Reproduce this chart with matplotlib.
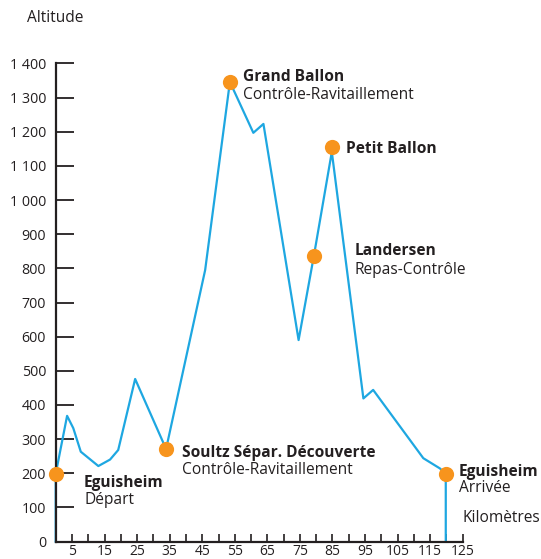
import matplotlib
matplotlib.use("Agg")
import matplotlib.pyplot as plt

# Profile data (km, altitude m)
km =  [0, 0, 3.5, 5.4, 7.7, 13.1, 16.7, 19.2, 24.4, 33.9, 45.9, 53.5, 60.7, 63.8, 74.6, 79.3, 84.8, 94.5, 97.5, 112.9, 118.0, 119.8, 119.8]
alt = [0, 198, 368, 332, 263, 221, 240, 268, 476, 271, 795, 1346, 1197, 1223, 590, 837, 1141, 419, 444, 244, 214, 198, 0]

# Points of interest
poi_km = [0, 33.9, 53.5, 79.3, 84.9, 119.8]
poi_alt = [198, 271, 1346, 837, 1155, 198]
poi_name = ["Eguisheim", "Soultz Sépar. Découverte", "Grand Ballon", "Landersen", "Petit Ballon", "Eguisheim"]
poi_sub = ["Départ", "Contrôle-Ravitaillement", "Contrôle-Ravitaillement", "Repas-Contrôle", "", "Arrivée"]

x_ticks = list(range(5, 126, 5))
x_labels = [str(t) if t % 10 == 5 else "" for t in x_ticks]
y_ticks = list(range(0, 1401, 100))
y_labels = [f"{t:,}".replace(",", " ") for t in y_ticks]

plt.rcParams['font.family'] = ['Open Sans', 'DejaVu Sans']
TXT = "#231f20"
BLUE = "#1ea7e1"
ORANGE = "#f7941d"

W, H = 541, 559
fig = plt.figure(figsize=(W / 100, H / 100), dpi=100)
x0, x1 = 55.7, 462.7
ytop, ybot = 63.5, 541.5
ax = fig.add_axes([x0 / W, (H - ybot) / H, (x1 - x0) / W, (ybot - ytop) / H])
ax.set_xlim(0, 125)
ax.set_ylim(0, 1400)

ax.plot(km, alt, color=BLUE, lw=1.6, clip_on=False, zorder=3, solid_joinstyle='round')
ax.scatter(poi_km, poi_alt, s=120, color=ORANGE, zorder=5, clip_on=False, linewidths=0)

for s in ['top', 'right']:
    ax.spines[s].set_visible(False)
for s in ['left', 'bottom']:
    ax.spines[s].set_linewidth(1.6)
    ax.spines[s].set_color(TXT)
    ax.spines[s].set_zorder(4)

ax.set_xticks(x_ticks)
ax.set_xticklabels(x_labels)
ax.set_yticks(y_ticks)
ax.set_yticklabels(y_labels)
ax.tick_params(axis='y', direction='in', length=13, width=1.3, color=TXT,
               labelsize=10.3, labelcolor=TXT, pad=7)
ax.tick_params(axis='x', direction='in', length=5.5, width=1.2, color=TXT,
               labelsize=10, labelcolor=TXT, pad=1.5)

# Label positions in pixels (left x, centre y of name line, centre y of sub line)
lab_px = [(84, 481, 498), (182, 451, 468), (243, 75, 93), (355, 249, 268), (346, 147, None), (459, 470, 486)]
FS = 11.2
for (lx, ny, sy), name, sub in zip(lab_px, poi_name, poi_sub):
    fig.text(lx / W, 1 - ny / H, name, fontsize=FS, fontweight='bold', color=TXT,
             ha='left', va='center_baseline')
    if sub:
        fig.text(lx / W, 1 - sy / H, sub, fontsize=FS, color=TXT,
                 ha='left', va='center_baseline')

fig.text(27 / W, 1 - 18 / H, "Altitude", fontsize=11.2, color=TXT, ha='left', va='center')
fig.text(463 / W, 1 - 518 / H, "Kilomètres", fontsize=11.2, color=TXT, ha='left', va='center')

fig.savefig("out.png", dpi=100, facecolor='white')
